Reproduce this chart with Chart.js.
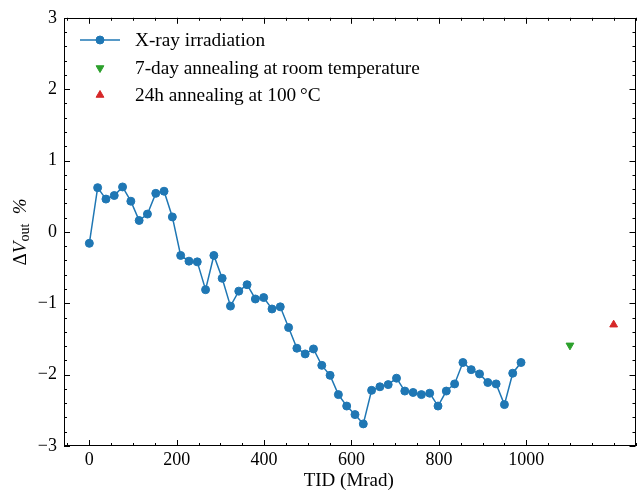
<!DOCTYPE html>
<html>
<head>
<meta charset="utf-8">
<script src="https://cdn.jsdelivr.net/npm/chart.js@4.4.0/dist/chart.umd.min.js"></script>
<style>
  html, body { margin: 0; padding: 0; background: #fff; }
  #wrap { width: 641px; height: 493px; }
</style>
</head>
<body>
<div id="wrap"><canvas id="chart" width="641" height="493"></canvas></div>
<script>
// X-ray irradiation (TID in Mrad, delta Vout in %)
const tidDose = [
  0, 19, 38, 57, 76, 95, 114, 133, 152, 171,
  190, 209, 228, 247, 266, 285, 304, 323, 342, 361,
  380, 399, 418, 437, 456, 475, 494, 513, 532, 551,
  570, 589, 608, 627, 646, 665, 684, 703, 722, 741,
  760, 779, 798, 817, 836, 855, 874, 893, 912, 931,
  950, 969, 988
];
const dVout = [
  -0.16, 0.62, 0.46, 0.51, 0.63, 0.43, 0.16, 0.25, 0.54, 0.57,
  0.21, -0.33, -0.41, -0.42, -0.81, -0.33, -0.65, -1.04, -0.83, -0.74,
  -0.94, -0.92, -1.08, -1.05, -1.34, -1.63, -1.71, -1.64, -1.87, -2.01,
  -2.28, -2.44, -2.56, -2.69, -2.22, -2.17, -2.14, -2.05, -2.23, -2.25,
  -2.28, -2.26, -2.44, -2.23, -2.13, -1.83, -1.93, -1.99, -2.11, -2.13,
  -2.42, -1.98, -1.83
];
// annealing points
const roomTempDose = [1100];
const roomTempVout = [-1.59];
const hotDose = [1200];
const hotVout = [-1.30];

const seriesNames = [
  "X-ray irradiation",
  "7-day annealing at room temperature",
  "24h annealing at 100\u2009\u00B0C"
];
const xMajorTicks = [0, 200, 400, 600, 800, 1000];
const xTickLabels = ["0", "200", "400", "600", "800", "1000"];
const yMajorTicks = [-3, -2, -1, 0, 1, 2, 3];
const yTickLabels = ["\u22123", "\u22122", "\u22121", "0", "1", "2", "3"];
const xMinorStep = 50;
const yMinorStep = 0.2;

const FONT = "'Liberation Serif', 'DejaVu Serif', serif";
const BLUE = "#1f77b4";
const GREEN = "#2ca02c";
const RED = "#d62728";

const toXY = (xs, ys) => xs.map((x, i) => ({ x: x, y: ys[i] }));

// frame, inward ticks, axis titles and legend
const decorations = {
  id: "decorations",
  afterDraw(chart) {
    const ctx = chart.ctx;
    const area = chart.chartArea;
    const xs = chart.scales.x;
    const ys = chart.scales.y;
    ctx.save();
    ctx.strokeStyle = "#000";
    ctx.lineWidth = 1;
    ctx.strokeRect(Math.round(area.left) + 0.5, Math.round(area.top) + 0.5,
      Math.round(area.right - area.left) - 1, Math.round(area.bottom - area.top) - 1);

    const tick = (x1, y1, x2, y2) => {
      ctx.beginPath();
      ctx.moveTo(x1, y1);
      ctx.lineTo(x2, y2);
      ctx.stroke();
    };
    // x ticks (minor every 50, major at labels)
    for (let v = Math.ceil(xs.min / xMinorStep) * xMinorStep; v <= xs.max; v += xMinorStep) {
      const px = Math.round(xs.getPixelForValue(v)) + 0.5;
      const len = xMajorTicks.includes(v) ? 6 : 3;
      tick(px, area.bottom, px, area.bottom - len);
      tick(px, area.top, px, area.top + len);
    }
    for (let k = Math.ceil(ys.min / yMinorStep); k * yMinorStep <= ys.max + 1e-9; k++) {
      const v = Math.round(k * yMinorStep * 10) / 10;
      const py = Math.round(ys.getPixelForValue(v)) + 0.5;
      const len = yMajorTicks.includes(v) ? 6 : 3;
      tick(area.left, py, area.left + len, py);
      tick(area.right, py, area.right - len, py);
    }

    // x title
    ctx.fillStyle = "#000";
    ctx.font = "19px " + FONT;
    ctx.textAlign = "center";
    ctx.textBaseline = "middle";
    ctx.fillText("TID (Mrad)", (area.left + area.right) / 2 - 1, 481);

    // y title: ΔV_out %
    ctx.save();
    ctx.translate(19, (area.top + area.bottom) / 2);
    ctx.rotate(-Math.PI / 2);
    ctx.textAlign = "left";
    ctx.textBaseline = "alphabetic";
    const parts = [
      { t: "\u0394", f: "19px " + FONT, dy: 0 },
      { t: "V", f: "italic 19px " + FONT, dy: 0 },
      { t: "out", f: "14px " + FONT, dy: 3 },
      { t: "  ", f: "19px " + FONT, dy: 0 },
      { t: "%", f: "italic 19px " + FONT, dy: 0 }
    ];
    let total = 0;
    parts.forEach(p => { ctx.font = p.f; p.w = ctx.measureText(p.t).width; total += p.w; });
    let cx = -total / 2;
    parts.forEach(p => { ctx.font = p.f; ctx.fillText(p.t, cx, 7 + p.dy); cx += p.w; });
    ctx.restore();

    // legend
    const rows = [40, 68, 95];
    const ds = chart.data.datasets;
    ctx.strokeStyle = BLUE;
    ctx.lineWidth = 1.5;
    tick(80, rows[0], 120, rows[0]);
    rows.forEach((y, i) => {
      const d = ds[i];
      ctx.fillStyle = d.backgroundColor;
      ctx.strokeStyle = d.borderColor;
      ctx.lineWidth = 1;
      Chart.helpers.drawPoint(ctx, {
        pointStyle: d.pointStyle, radius: d.pointRadius,
        rotation: d.pointRotation || 0, borderWidth: 1
      }, 100, y);
      ctx.fillStyle = "#000";
      ctx.font = "19.3px " + FONT;
      ctx.textAlign = "left";
      ctx.textBaseline = "middle";
      ctx.fillText(seriesNames[i], 135, y + 1);
    });
    ctx.restore();
  }
};

const ctx = document.getElementById("chart").getContext("2d");

const chart = new Chart(ctx, {
  type: "scatter",
  data: {
    datasets: [
      {
        label: seriesNames[0],
        data: toXY(tidDose, dVout),
        showLine: true,
        borderColor: BLUE,
        backgroundColor: BLUE,
        borderWidth: 1.5,
        pointStyle: "circle",
        pointRadius: 4,
        pointBorderWidth: 1,
        pointBorderColor: BLUE,
        pointBackgroundColor: BLUE,
      },
      {
        label: seriesNames[1],
        data: toXY(roomTempDose, roomTempVout),
        borderColor: GREEN,
        backgroundColor: GREEN,
        pointStyle: "triangle",
        pointRotation: 180,
        pointRadius: 4.5,
        pointBorderWidth: 1,
      },
      {
        label: seriesNames[2],
        data: toXY(hotDose, hotVout),
        borderColor: RED,
        backgroundColor: RED,
        pointStyle: "triangle",
        pointRadius: 4.5,
        pointBorderWidth: 1,
      },
    ],
  },
  options: {
    responsive: false,
    animation: false,
    layout: { padding: { left: 0, right: 2, top: 15, bottom: 0 } },
    plugins: {
      legend: { display: false },
      tooltip: { enabled: false },
    },
    scales: {
      x: {
        type: "linear",
        min: -58,
        max: 1250,
        afterBuildTicks: (scale) => {
          scale.ticks = xMajorTicks.map((v) => ({ value: v }));
        },
        afterFit: (scale) => { scale.height = 47; },
        grid: { display: false, drawTicks: false },
        border: { display: false },
        ticks: {
          color: "#000",
          font: { family: FONT, size: 18 },
          padding: 3,
          maxRotation: 0,
          callback: (v) => xTickLabels[xMajorTicks.indexOf(v)],
        },
      },
      y: {
        type: "linear",
        min: -3,
        max: 3,
        afterBuildTicks: (scale) => {
          scale.ticks = yMajorTicks.map((v) => ({ value: v }));
        },
        afterFit: (scale) => { scale.width = 64; },
        grid: { display: false, drawTicks: false },
        border: { display: false },
        ticks: {
          color: "#000",
          font: { family: FONT, size: 18 },
          padding: 7,
          callback: (v) => yTickLabels[yMajorTicks.indexOf(v)],
        },
      },
    },
  },
  plugins: [decorations],
});
</script>
</body>
</html>
